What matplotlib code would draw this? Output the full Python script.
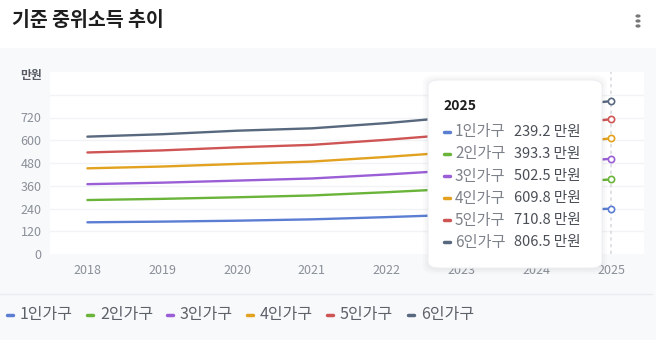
import matplotlib
matplotlib.use("Agg")
import matplotlib.pyplot as plt
from matplotlib.patches import Rectangle, FancyBboxPatch
from matplotlib.lines import Line2D

plt.rcParams['font.family'] = ['Noto Sans CJK KR', 'DejaVu Sans']

years = [2018, 2019, 2020, 2021, 2022, 2023, 2024, 2025]
series_names = ['1인가구', '2인가구', '3인가구', '4인가구', '5인가구', '6인가구']
one = [167.2, 170.8, 175.7, 182.8, 194.5, 207.8, 222.8, 239.2]
two = [284.7, 290.9, 299.2, 308.8, 326.0, 345.6, 368.3, 393.3]
three = [368.3, 376.3, 387.1, 398.4, 419.5, 443.4, 471.3, 502.5]
four = [451.9, 461.4, 474.9, 487.6, 512.1, 540.1, 572.9, 609.8]
five = [535.5, 546.6, 562.7, 575.7, 602.4, 633.6, 670.6, 710.8]
six = [619.0, 631.8, 650.4, 662.9, 690.5, 725.2, 765.4, 806.5]
y_ticks = [0, 120, 240, 360, 480, 600, 720]
grid_levels = [120, 240, 360, 480, 600, 720, 840]
colors = ['#5b7ed3', '#6ab43a', '#9a5fd6', '#e2a21f', '#cf5555', '#58687e']

all_series = [one, two, three, four, five, six]
hover_year = 2025

W, H = 656, 340
fig = plt.figure(figsize=(W / 100, H / 100), dpi=100, facecolor='white')


def fx(px):
    return px / W


def fy(py):
    return 1 - py / H


# panel background below the title
fig.patches.append(Rectangle((0, 0), 1, fy(48), transform=fig.transFigure,
                             facecolor='#f8f9fb', edgecolor='none', zorder=-5))
# separator above the legend
fig.add_artist(Line2D([fx(0), fx(652)], [fy(293.5), fy(293.5)],
                      transform=fig.transFigure, color='#e9ecf0', lw=1, zorder=-4))

# title and menu
fig.text(fx(12), fy(20), '기준 중위소득 추이', fontsize=14, fontweight='bold',
         color='#1e1e1e', va='center', ha='left')
for dy in (-5, 0, 5):
    fig.add_artist(plt.Circle((fx(638), fy(21 + dy)), 0.0028,
                              transform=fig.transFigure, color='#777777'))

ax = fig.add_axes([fx(50), fy(254), fx(644) - fx(50), (254 - 72) / H])
ax.set_zorder(1)
ax.set_facecolor('white')
for s in ax.spines.values():
    s.set_visible(False)

ax.set_xlim(2017.5, 2025.44)
ax.set_ylim(0, 960)
for g in grid_levels:
    ax.axhline(g, color='#f1f3f6', lw=1, zorder=1)

ax.axvline(hover_year, color='#d9dce2', lw=1.2, ls=(0, (2, 2)), zorder=2)

for vals, c in zip(all_series, colors):
    ax.plot(years, vals, color=c, lw=1.7, zorder=3, solid_capstyle='round')
    ax.plot([years[-1]], [vals[-1]], marker='o', ms=4.5, mfc='white', mec=c,
            mew=1.2, zorder=4)

ax.set_yticks(y_ticks)
ax.set_yticklabels([str(v) for v in y_ticks])
ax.set_xticks(years)
ax.set_xticklabels([str(y) for y in years])
ax.tick_params(axis='both', length=0, labelsize=9, colors='#8a8f98')
ax.tick_params(axis='y', pad=6)
ax.tick_params(axis='x', pad=7)

fig.text(fx(42), fy(75), '만원', fontsize=8.5, fontweight='bold', color='#555a63',
         ha='right', va='center')

# hover tooltip
tx0, ty0, tx1, ty1 = 428, 80, 602, 268
for i, a in enumerate([0.025, 0.02, 0.015]):
    off = 2 + i * 2
    fig.patches.append(FancyBboxPatch(
        (fx(tx0 - off + 1), fy(ty1 + off)), fx(tx1 - tx0 + 2 * off - 2), (ty1 - ty0 + 2 * off - 1) / H,
        boxstyle='round,pad=0,rounding_size=0.02', transform=fig.transFigure,
        facecolor='#000000', alpha=a, edgecolor='none', zorder=5))
fig.patches.append(FancyBboxPatch(
    (fx(tx0), fy(ty1)), fx(tx1 - tx0), (ty1 - ty0) / H,
    boxstyle='round,pad=0,rounding_size=0.018', transform=fig.transFigure,
    facecolor='white', edgecolor='#eef0f3', lw=0.8, zorder=6))

idx = years.index(hover_year)
fig.text(fx(443), fy(106), str(hover_year), fontsize=10, fontweight='bold',
         color='#1e1e1e', ha='left', va='center', zorder=7)
row_y = [132, 154, 176, 198, 220, 242]
for name, vals, c, ry in zip(series_names, all_series, colors, row_y):
    fig.add_artist(Line2D([fx(444), fx(450)], [fy(ry), fy(ry)], transform=fig.transFigure,
                          color=c, lw=2.5, solid_capstyle='round', zorder=7))
    fig.text(fx(455), fy(ry), name, fontsize=11, color='#7d8189',
             ha='left', va='center', zorder=7)
    fig.text(fx(514), fy(ry), f'{vals[idx]:.1f} 만원', fontsize=10.5, color='#4a4e56',
             ha='left', va='center', zorder=7)

# legend
leg_x = [10, 90, 170, 250, 330, 411]
for name, c, lx in zip(series_names, colors, leg_x):
    fig.add_artist(Line2D([fx(lx - 3), fx(lx + 3)], [fy(315), fy(315)], transform=fig.transFigure,
                          color=c, lw=2.5, solid_capstyle='round'))
    fig.text(fx(lx + 10), fy(315), name, fontsize=11.5, color='#5d6169',
             ha='left', va='center')

fig.savefig('out.png', dpi=100, facecolor=fig.get_facecolor())
